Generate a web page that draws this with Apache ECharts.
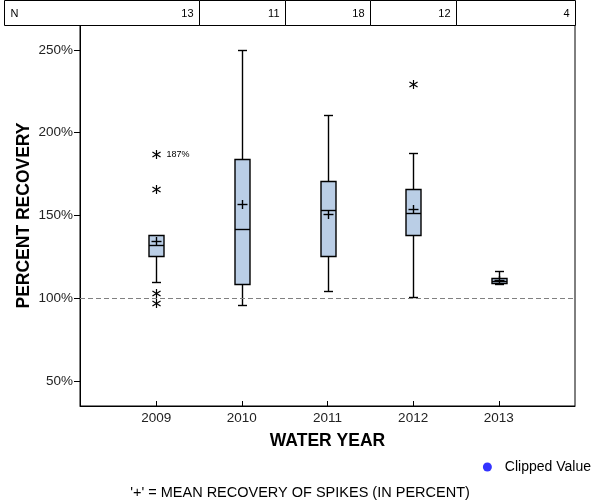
<!DOCTYPE html>
<html>
<head>
<meta charset="utf-8">
<script src="https://cdn.jsdelivr.net/npm/echarts@6/dist/echarts.min.js"></script>
<style>html,body{margin:0;padding:0;background:#fff}#chart{width:600px;height:500px}</style>
</head>
<body>
<div id="chart"></div>
<script>
// ---- data ----
const years = [2009, 2010, 2011, 2012, 2013];
const counts = [13, 11, 18, 12, 4];
const whiskerLow = [109.7, 95.8, 104.2, 101.0, 108.8];
const q1 = [125.6, 108.5, 125.6, 138.1, 109.4];
const median = [132.2, 141.7, 153.4, 151.4, 110.5];
const q3 = [138.1, 184.0, 170.7, 165.9, 112.5];
const whiskerHigh = [138.1, 249.7, 210.6, 187.7, 116.5];
const means = [134.6, 157.2, 150.8, 153.8, 111.2];
const outlierYears = [2009, 2009, 2009, 2009, 2012];
const outlierValues = [187, 165.9, 103, 97.3, 229.5];
const outlierLabels = ['187%', '', '', '', ''];
const yTicks = [50, 100, 150, 200, 250];
const referenceLine = 100;
const footnote = "'+' = MEAN RECOVERY OF SPIKES (IN PERCENT)";

const xMin = 2008.11, xMax = 2013.89, yMin = 35, yMax = 265;
const FONT = 'Liberation Sans, Arial, sans-serif';

const boxData = years.map((y, i) => [y, whiskerLow[i], q1[i], median[i], q3[i], whiskerHigh[i], means[i]]);
const outlierData = outlierYears.map((y, i) => [y, outlierValues[i], outlierLabels[i]]);
const headerData = years.map((y, i) => [y, counts[i]]);

const LINE = { stroke: '#000', lineWidth: 1.4 };
const STAR = { stroke: '#000', lineWidth: 1.2 };

function renderBox(params, api) {
  const yr = api.value(0);
  const cx = Math.round(api.coord([yr, yMin])[0]) + 0.5;
  const py = v => Math.round(api.coord([yr, v])[1]) + 0.5;
  const yLo = py(api.value(1)), yQ1 = py(api.value(2)), yMed = py(api.value(3));
  const yQ3 = py(api.value(4)), yHi = py(api.value(5)), yMean = py(api.value(6));
  const hb = 7.5, hc = 4.5;
  const ch = [];
  ch.push({ type: 'line', shape: { x1: cx, y1: yLo, x2: cx, y2: yQ1 }, style: LINE });
  ch.push({ type: 'line', shape: { x1: cx - hc, y1: yLo, x2: cx + hc, y2: yLo }, style: LINE });
  if (yHi < yQ3) {
    ch.push({ type: 'line', shape: { x1: cx, y1: yHi, x2: cx, y2: yQ3 }, style: LINE });
    ch.push({ type: 'line', shape: { x1: cx - hc, y1: yHi, x2: cx + hc, y2: yHi }, style: LINE });
  }
  ch.push({ type: 'rect', shape: { x: cx - hb, y: yQ3, width: 2 * hb, height: yQ1 - yQ3 },
            style: { fill: '#BACEE6', stroke: '#000', lineWidth: 1.4 } });
  ch.push({ type: 'line', shape: { x1: cx - hb, y1: yMed, x2: cx + hb, y2: yMed }, style: LINE });
  ch.push({ type: 'line', shape: { x1: cx - 5, y1: yMean, x2: cx + 5, y2: yMean }, style: LINE });
  ch.push({ type: 'line', shape: { x1: cx, y1: yMean - 4.5, x2: cx, y2: yMean + 4.5 }, style: LINE });
  return { type: 'group', children: ch };
}

function renderOutlier(params, api) {
  const p = api.coord([api.value(0), api.value(1)]);
  const x = Math.round(p[0]) + 0.5, y = Math.round(p[1]) + 0.5;
  const r = 4.5, dx = r * 0.9, dy = r * 0.55;
  const ch = [
    { type: 'line', shape: { x1: x, y1: y - r, x2: x, y2: y + r }, style: STAR },
    { type: 'line', shape: { x1: x - dx, y1: y - dy, x2: x + dx, y2: y + dy }, style: STAR },
    { type: 'line', shape: { x1: x - dx, y1: y + dy, x2: x + dx, y2: y - dy }, style: STAR }
  ];
  const lab = outlierData[params.dataIndex][2];
  if (lab) {
    ch.push({ type: 'text', x: x + 10, y: y,
      style: { text: lab, fontSize: 9, fontFamily: FONT, fill: '#000', align: 'left', verticalAlign: 'middle' } });
  }
  return { type: 'group', children: ch };
}

function renderHeader(params, api) {
  const i = params.dataIndex;
  const cs = params.coordSys;
  const n = years.length;
  const left = i === 0 ? cs.x - 76 : api.coord([years[i] - 0.5, yMin])[0];
  const right = i === n - 1 ? cs.x + cs.width : api.coord([years[i] + 0.5, yMin])[0];
  const top = cs.y - 25;
  const l = Math.round(left) + 0.5, r = Math.round(right) + 0.5, t = Math.round(top) + 0.5;
  const ch = [
    { type: 'rect', shape: { x: l, y: t, width: r - l, height: 25 }, style: { fill: '#fff', stroke: '#000', lineWidth: 1 } },
    { type: 'text', x: r - 6, y: t + 13,
      style: { text: String(api.value(1)), fontSize: 11, fontFamily: FONT, fill: '#000', align: 'right', verticalAlign: 'middle' } }
  ];
  if (i === 0) {
    ch.push({ type: 'text', x: l + 6, y: t + 13,
      style: { text: 'N', fontSize: 11, fontFamily: FONT, fill: '#000', align: 'left', verticalAlign: 'middle' } });
  }
  return { type: 'group', children: ch };
}

const chart = echarts.init(document.getElementById('chart'), null, { renderer: 'canvas' });
chart.setOption({
  animation: false,
  backgroundColor: '#fff',
  title: {
    text: footnote, left: 'center', bottom: -5,
    textStyle: { fontSize: 14.5, fontWeight: 'normal', color: '#000', fontFamily: FONT }
  },
  legend: {
    data: [{ name: 'Clipped Value', icon: 'circle' }],
    right: 4, top: 455, itemWidth: 25, itemHeight: 9,
    textStyle: { fontSize: 14, color: '#000', fontFamily: FONT },
    selectedMode: false
  },
  grid: {
    left: 80, right: 25, top: 25, bottom: 94,
    show: true, borderColor: '#000', borderWidth: 1, backgroundColor: 'transparent'
  },
  xAxis: {
    type: 'value', min: xMin, max: xMax,
    name: 'WATER YEAR', nameLocation: 'middle', nameGap: 26,
    nameTextStyle: { fontSize: 17.5, fontWeight: 'bold', color: '#000', fontFamily: FONT },
    axisLine: { lineStyle: { color: '#000' } },
    axisTick: { inside: true, length: 5, customValues: years, lineStyle: { color: '#000' } },
    axisLabel: { customValues: years, fontSize: 13.5, color: '#222', margin: 5, fontFamily: FONT,
                 formatter: v => String(v) },
    splitLine: { show: false }
  },
  yAxis: {
    type: 'value', min: yMin, max: yMax,
    name: 'PERCENT RECOVERY', nameLocation: 'middle', nameGap: 47, nameMoveOverlap: false,
    nameTextStyle: { fontSize: 17.5, fontWeight: 'bold', color: '#000', fontFamily: FONT },
    axisLine: { show: true, lineStyle: { color: '#000' } },
    axisTick: { show: true, length: 6, customValues: yTicks, lineStyle: { color: '#000' } },
    axisLabel: { customValues: yTicks, fontSize: 13.5, color: '#222', margin: 7, fontFamily: FONT,
                 formatter: v => v + '%' },
    splitLine: { show: false }
  },
  series: [
    {
      name: 'Clipped Value', type: 'scatter', data: [],
      itemStyle: { color: '#0000FF' },
      markLine: {
        silent: true, symbol: 'none', label: { show: false },
        lineStyle: { color: '#808080', type: [5, 3], width: 1 },
        data: [{ yAxis: referenceLine }]
      }
    },
    { type: 'custom', name: 'header', renderItem: renderHeader, data: headerData, clip: false, silent: true },
    { type: 'custom', name: 'boxes', renderItem: renderBox, data: boxData, silent: true,
      encode: { x: 0, y: [1, 2, 3, 4, 5] } },
    { type: 'custom', name: 'outliers', renderItem: renderOutlier, data: outlierData, silent: true,
      encode: { x: 0, y: 1 } }
  ]
});
</script>
</body>
</html>
